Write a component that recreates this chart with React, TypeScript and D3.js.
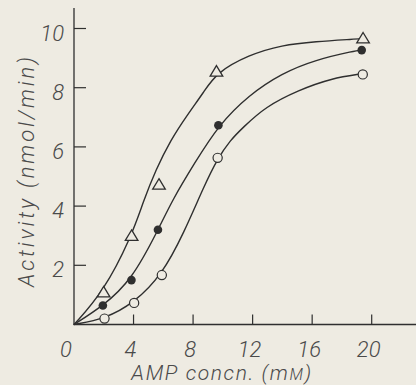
import React from "react";
import * as d3 from "d3";

const W = 416;
const H = 385;

// Measured points: AMP concentration (mM) vs activity (nmol/min)
const triConc = [1.99, 3.87, 5.71, 9.57, 19.42];
const triAct = [1.1, 3.01, 4.74, 8.56, 9.68];
const dotConc = [1.94, 3.86, 5.64, 9.7, 19.33];
const dotAct = [0.64, 1.5, 3.2, 6.73, 9.27];
const ringConc = [2.05, 4.04, 5.9, 9.65, 19.4];
const ringAct = [0.2, 0.73, 1.67, 5.63, 8.45];

// Smooth saturation curves drawn through each series
const triCurve: [number, number][] = [
  [0, 0], [1.95, 1.08], [3.88, 2.99], [4.65, 4.15], [5.49, 5.22], [6.49, 6.23],
  [7.61, 7.08], [8.72, 7.85], [9.55, 8.5], [11.74, 9.11], [13.97, 9.44],
  [16.2, 9.56], [18.88, 9.64], [19.4, 9.66],
];
const dotCurve: [number, number][] = [
  [0, 0], [1.94, 0.62], [3.86, 1.49], [5.66, 3.2], [6.61, 4.21], [8.1, 5.45],
  [9.7, 6.73], [11.74, 7.75], [13.97, 8.49], [16.2, 8.94], [18.88, 9.25], [19.33, 9.27],
];
const ringCurve: [number, number][] = [
  [0, 0], [2.08, 0.19], [4.04, 0.73], [5.9, 1.67], [7.39, 3.1], [8.72, 4.66],
  [9.66, 5.62], [10.51, 6.23], [11.3, 6.63], [12.86, 7.36], [15.09, 7.92],
  [17.32, 8.32], [19.33, 8.47],
];

const xTicks = [4, 8, 12, 16, 20];
const xTickLabels = ["0", "4", "8", "12", "16", "20"];
const yTicks = [2, 4, 6, 8, 10];

const paper = "#eeebe2";
const ink = "#2f2f2f";
const textInk = "#4a4a4a";
const font = "Roboto, 'Liberation Sans', sans-serif";

export default function App() {
  const x = d3.scaleLinear().domain([0, 20]).range([74, 371.7]);
  const y = d3.scaleLinear().domain([0, 10]).range([324.5, 28.5]);

  const line = d3
    .line<[number, number]>()
    .x((d) => x(d[0]))
    .y((d) => y(d[1]))
    .curve(d3.curveBasis);

  const tri = (cx: number, cy: number) =>
    `M${cx},${cy - 5.5}L${cx + 6.3},${cy + 5}L${cx - 6.3},${cy + 5}Z`;

  const x0 = x(0);
  const y0 = y(0);

  return (
    <svg
      width={W}
      height={H}
      viewBox={`0 0 ${W} ${H}`}
      style={{ position: "absolute", left: 0, top: 0, background: paper }}
    >
      <rect width={W} height={H} fill={paper} />

      {/* axes */}
      <line x1={x0} y1={8} x2={x0} y2={y0 + 0.5} stroke={ink} strokeWidth={1.3} />
      <line x1={x0 - 0.5} y1={y0} x2={W} y2={y0} stroke={ink} strokeWidth={1.3} />
      {xTicks.map((t) => (
        <line key={`xt${t}`} x1={x(t)} x2={x(t)} y1={y0} y2={y0 - 10} stroke={ink} strokeWidth={1.2} />
      ))}
      {yTicks.map((t) => (
        <line key={`yt${t}`} x1={x0} x2={x0 + 12} y1={y(t)} y2={y(t)} stroke={ink} strokeWidth={1.2} />
      ))}

      {/* tick labels */}
      <g fill={textInk} fontFamily={font} fontStyle="italic" fontWeight={300} fontSize={22}>
        {xTickLabels.map((lab, i) => {
          const v = i * 4;
          return (
            <text
              key={`xl${lab}`}
              x={x(v) + (v === 0 ? -8 : -3)}
              y={y0 + 32}
              textAnchor="middle"
            >
              {lab}
            </text>
          );
        })}
        {yTicks.map((t) => (
          <text key={`yl${t}`} x={64} y={y(t) + 12} textAnchor="end">
            {t}
          </text>
        ))}
      </g>

      {/* axis titles */}
      <text
        x={222}
        y={380}
        textAnchor="middle"
        fill={textInk}
        fontFamily={font}
        fontStyle="italic"
        fontWeight={300}
        fontSize={21}
        letterSpacing={1.6}
      >
        AMP concn. (m<tspan fontSize={16}>M</tspan>)
      </text>
      <text
        transform="translate(34,172) rotate(-90)"
        textAnchor="middle"
        fill={textInk}
        fontFamily={font}
        fontStyle="italic"
        fontWeight={300}
        fontSize={22}
        textLength={230}
        lengthAdjust="spacing"
      >
        Activity (nmol/min)
      </text>

      {/* curves */}
      <g fill="none" stroke={ink} strokeWidth={1.4}>
        <path d={line(triCurve) ?? ""} />
        <path d={line(dotCurve) ?? ""} />
        <path d={line(ringCurve) ?? ""} />
      </g>

      {/* markers */}
      {triConc.map((c, i) => (
        <path key={`t${i}`} d={tri(x(c), y(triAct[i]))} fill={paper} stroke={ink} strokeWidth={1.3} />
      ))}
      {dotConc.map((c, i) => (
        <circle key={`d${i}`} cx={x(c)} cy={y(dotAct[i])} r={4.3} fill={ink} />
      ))}
      {ringConc.map((c, i) => (
        <circle key={`r${i}`} cx={x(c)} cy={y(ringAct[i])} r={4.6} fill={paper} stroke={ink} strokeWidth={1.2} />
      ))}
    </svg>
  );
}
